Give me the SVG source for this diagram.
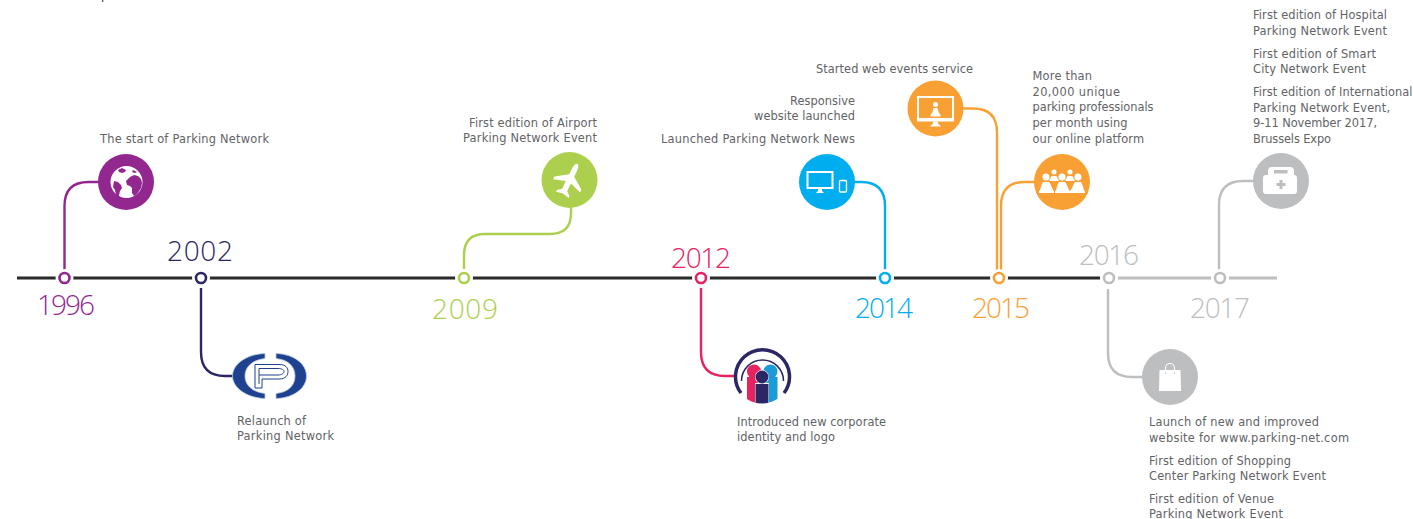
<svg xmlns="http://www.w3.org/2000/svg" width="1413" height="519" viewBox="0 0 1413 519">
<defs>
<style>
.t{font-family:"DejaVu Sans","Liberation Sans",sans-serif;font-size:11.4px;fill:#626366}
.e{text-anchor:end}
.y{font-family:"Open Sans",Lato,sans-serif;font-weight:300;font-size:28px}
.c{fill:none;stroke-width:2.4}
.n{fill:#fff;stroke-width:2.6}
.r{fill:#fff}
.w{fill:#fff}
</style>
<clipPath id="logoClip"><circle cx="762" cy="376" r="27.5"/></clipPath>
</defs>
<rect width="1413" height="519" fill="#fff"/>
<rect x="102" y="0" width="1.300" height="2" fill="#58595b"/>
<g id="timeline" fill="none" stroke-width="3">
<path d="M17 278H1100" stroke="#2b2b2b"/>
<path d="M1100 278H1277" stroke="#bcbec0"/>
</g>
<g id="connectors">
<path class="c" stroke="#92278f" d="M64.500 270V206Q64.500 182 88.500 182H100"/>
<path class="c" stroke="#2b2664" d="M201 288V352Q201 376 225 376H236"/>
<path class="c" stroke="#acd04e" d="M464 270V255Q464 234 485 234H550Q571 234 571 213V206"/>
<path class="c" stroke="#e8215f" d="M701 288V352Q701 376 725 376H736"/>
<path class="c" stroke="#00aeef" d="M885 270V206Q885 182 861 182H852"/>
<path class="c" stroke="#f9a034" d="M962 108.500H973Q997 108.500 997 132.500V271"/>
<path class="c" stroke="#f9a034" d="M1036 182H1025Q1001 182 1001 206V271"/>
<path class="c" stroke="#bcbec0" d="M1108 289V353Q1108 377 1132 377H1144"/>
<path class="c" stroke="#bcbec0" d="M1219 270V205Q1219 181 1243 181H1255"/>
</g>
<g id="n1996">
<circle class="r" cx="64.500" cy="278" r="9"/><circle class="n" stroke="#92278f" cx="64.500" cy="278" r="5"/>
<text class="y" fill="#92278f" x="37" y="315" textLength="58">1996</text>
<circle cx="126" cy="182" r="28" fill="#92278f"/>
<circle class="w" cx="126.500" cy="182" r="16"/>
<path fill="#92278f" d="M130 177l4-2 4 1 3 3 1 4-1 5-4 6-3 2-2-3v-5l-2-2-3-1-1-4zM114 181l4 1 3 3 1 3-2 3-1 4-1 3-2-3-1-5-2-3zM122 168l4 2-1 2-3 1-3-1-1-2zM133 170l4 2-2 1-3-1z"/>
<text class="t" x="100" y="143" textLength="169">The start of Parking Network</text>
</g>
<g id="n2002">
<circle class="r" cx="201" cy="278" r="9"/><circle class="n" stroke="#2b2664" cx="201" cy="278" r="5"/>
<text class="y" fill="#2b2664" x="167" y="261" textLength="66">2002</text>
<g stroke="#b8cbe0" stroke-width=".8" fill="#1f418f">
<path d="M265 353.500C247 354 232.500 364 232.500 376C232.500 388 247 398 265 398.500V393.500C252 392 245 385 245 376C245 367 252 360 265 358.500Z"/>
<path d="M276 353.500C294 354 306.500 364 306.500 376C306.500 388 294 398 276 398.500V393.500C289 392 295 385 295 376C295 367 289 360 276 358.500Z"/>
</g>
<path fill="none" stroke="#1f418f" stroke-width="1" d="M255 388V364.500H279C286 364.500 288 368 288 371.500C288 375 286 379 279 379H262V388ZM259 384V368.500H278C282 368.500 284 370 284 371.500C284 373 282 375 278 375H259"/>
<text class="t" x="237" y="425" textLength="69">Relaunch of</text>
<text class="t" x="237" y="440" textLength="97">Parking Network</text>
</g>
<g id="n2009">
<circle class="r" cx="464" cy="278" r="9"/><circle class="n" stroke="#acd04e" cx="464" cy="278" r="5"/>
<text class="y" fill="#acd04e" x="432" y="319" textLength="66">2009</text>
<circle cx="569.500" cy="180" r="28" fill="#acd04e"/>
<path class="w" transform="translate(569.500 180) rotate(26)" d="M0-18C2-18 2.800-14 2.800-10V-5L15 3.500V6.500L2.800 2.500V11L7 14.500V16.500L0 15L-7 16.500V14.500L-2.800 11V2.500L-15 6.500V3.500L-2.800-5V-10C-2.800-14-2-18 0-18Z"/>
<text class="t e" x="597" y="127" textLength="128">First edition of Airport</text>
<text class="t e" x="597" y="142" textLength="134">Parking Network Event</text>
</g>
<g id="n2012">
<circle class="r" cx="701" cy="278" r="9"/><circle class="n" stroke="#e8215f" cx="701" cy="278" r="5"/>
<text class="y" fill="#e8215f" x="671" y="267.500" textLength="60">2012</text>
<path fill="none" stroke="#2b2664" stroke-width="3.500" d="M741 393A27 27 0 1 1 784 393"/>
<path fill="none" stroke="#2b2664" stroke-width="1.500" d="M741.500 381A21 21 0 1 1 783.500 381"/>
<g clip-path="url(#logoClip)">
<circle cx="754" cy="371.500" r="7" fill="#e8215f"/><rect x="747" y="377" width="13" height="31" fill="#e8215f"/>
<circle cx="770.500" cy="371.500" r="7" fill="#1b9cd8"/><rect x="764" y="377" width="13.500" height="31" fill="#1b9cd8"/>
<circle cx="762" cy="377" r="7" fill="#fff"/>
<rect x="755" y="383" width="14" height="25" fill="#fff"/>
<circle cx="762" cy="377" r="6.500" fill="#2b2664"/><rect x="755.500" y="384" width="13" height="24" fill="#2b2664"/>
</g>
<text class="t" x="737" y="426" textLength="149">Introduced new corporate</text>
<text class="t" x="737" y="441" textLength="98">identity and logo</text>
</g>
<g id="n2014">
<circle class="r" cx="885" cy="278" r="9"/><circle class="n" stroke="#00aeef" cx="885" cy="278" r="5"/>
<text class="y" fill="#00aeef" x="855" y="318" textLength="58">2014</text>
<circle cx="827" cy="182" r="28" fill="#00aeef"/>
<rect x="807.500" y="172" width="25" height="16" fill="none" stroke="#fff" stroke-width="2"/>
<path class="w" d="M818 189h4v2l2 2h-8l2-2z"/>
<rect x="839.500" y="180.500" width="7" height="11.500" rx="1" fill="none" stroke="#fff" stroke-width="1.300"/>
<text class="t e" x="855" y="105" textLength="65">Responsive</text>
<text class="t e" x="855" y="120" textLength="101">website launched</text>
<text class="t e" x="855" y="143" textLength="194">Launched Parking Network News</text>
</g>
<g id="n2015">
<circle class="r" cx="999" cy="278" r="9"/><circle class="n" stroke="#f9a034" cx="999" cy="278" r="5"/>
<text class="y" fill="#f9a034" x="972" y="318" textLength="58">2015</text>
<circle cx="935.500" cy="108.500" r="28" fill="#f9a034"/>
<rect x="918" y="97" width="35" height="22" fill="none" stroke="#fff" stroke-width="2"/>
<rect x="917" y="118" width="37" height="3.500" fill="#fff"/>
<path class="w" d="M933 121.500h5v2l3 3h-11l3-3z"/>
<circle class="w" cx="935.500" cy="104.500" r="2.500"/>
<path class="w" d="M933.500 108h4l1 4 2 3v1.500h-10V115l2-3z"/>
<text class="t e" x="973" y="73" textLength="157">Started web events service</text>
<circle cx="1062" cy="182" r="28" fill="#f9a034"/>
<g class="w">
<circle cx="1046" cy="177" r="3.500"/><circle cx="1062" cy="177" r="3.500"/><circle cx="1078" cy="177" r="3.500"/>
<circle cx="1054" cy="172" r="2.500"/><circle cx="1070" cy="172" r="2.500"/>
<path d="M1043 182h6c2 2 3 7 5 9.500v1.500h-15v-1.500c2-2.500 2-7 4-9.500zM1059 182h6c2 2 3 7 5 9.500v1.500h-15v-1.500c2-2.500 2-7 4-9.500zM1075 182h6c2 2 2 7 4 9.500v1.500h-15v-1.500c2-2.500 3-7 5-9.500zM1051.500 176h5l2.500 5h-10zM1067.500 176h5l2.500 5h-10z"/>
</g>
<text class="t" x="1032.500" y="80" textLength="59.500">More than</text>
<text class="t" x="1032.500" y="96" textLength="87.500">20,000 unique</text>
<text class="t" x="1032.500" y="111" textLength="121">parking professionals</text>
<text class="t" x="1032.500" y="127" textLength="95">per month using</text>
<text class="t" x="1032.500" y="143" textLength="111.500">our online platform</text>
</g>
<g id="n2016">
<circle class="r" cx="1109" cy="278" r="9"/><circle class="n" stroke="#bcbec0" cx="1109" cy="278" r="5"/>
<text class="y" fill="#bcbec0" x="1079" y="265" textLength="60">2016</text>
<circle cx="1170" cy="377" r="28" fill="#bcbec0"/>
<path class="w" d="M1159.500 370h21l.5 21h-22z"/>
<path fill="none" stroke="#fff" stroke-width="1.200" d="M1165.500 370V368a4.500 4.500 0 0 1 9 0v2"/>
<circle cx="1165.500" cy="373" r=".8" fill="#bcbec0"/><circle cx="1174.500" cy="373" r=".8" fill="#bcbec0"/>
<text class="t" x="1149" y="426" textLength="170">Launch of new and improved</text>
<text class="t" x="1149" y="442" textLength="200">website for www.parking-net.com</text>
<text class="t" x="1149" y="465" textLength="142">First edition of Shopping</text>
<text class="t" x="1149" y="480" textLength="177">Center Parking Network Event</text>
<text class="t" x="1149" y="503" textLength="125">First edition of Venue</text>
<text class="t" x="1149" y="518" textLength="134">Parking Network Event</text>
</g>
<g id="n2017">
<circle class="r" cx="1220" cy="278" r="9"/><circle class="n" stroke="#bcbec0" cx="1220" cy="278" r="5"/>
<text class="y" fill="#bcbec0" x="1190" y="318" textLength="60">2017</text>
<circle cx="1281" cy="181" r="28" fill="#bcbec0"/>
<path class="w" d="M1266 175h2v-4a4 4 0 0 1 4-4h18a4 4 0 0 1 4 4v4h0a3 3 0 0 1 3 3v13a3 3 0 0 1-3 3h-28a3 3 0 0 1-3-3v-13a3 3 0 0 1 3-3z"/>
<rect x="1274" y="170" width="13.500" height="3.500" fill="#bcbec0"/>
<path fill="#bcbec0" d="M1279.500 180h3v3h3v3h-3v3h-3v-3h-3v-3h3z"/>
<text class="t" x="1253" y="19" textLength="134">First edition of Hospital</text>
<text class="t" x="1253" y="35" textLength="134">Parking Network Event</text>
<text class="t" x="1253" y="58" textLength="123">First edition of Smart</text>
<text class="t" x="1253" y="73" textLength="113">City Network Event</text>
<text class="t" x="1253" y="96" textLength="159.500">First edition of International</text>
<text class="t" x="1253" y="112" textLength="137">Parking Network Event,</text>
<text class="t" x="1253" y="127" textLength="124">9-11 November 2017,</text>
<text class="t" x="1253" y="143" textLength="78">Brussels Expo</text>
</g>
</svg>
